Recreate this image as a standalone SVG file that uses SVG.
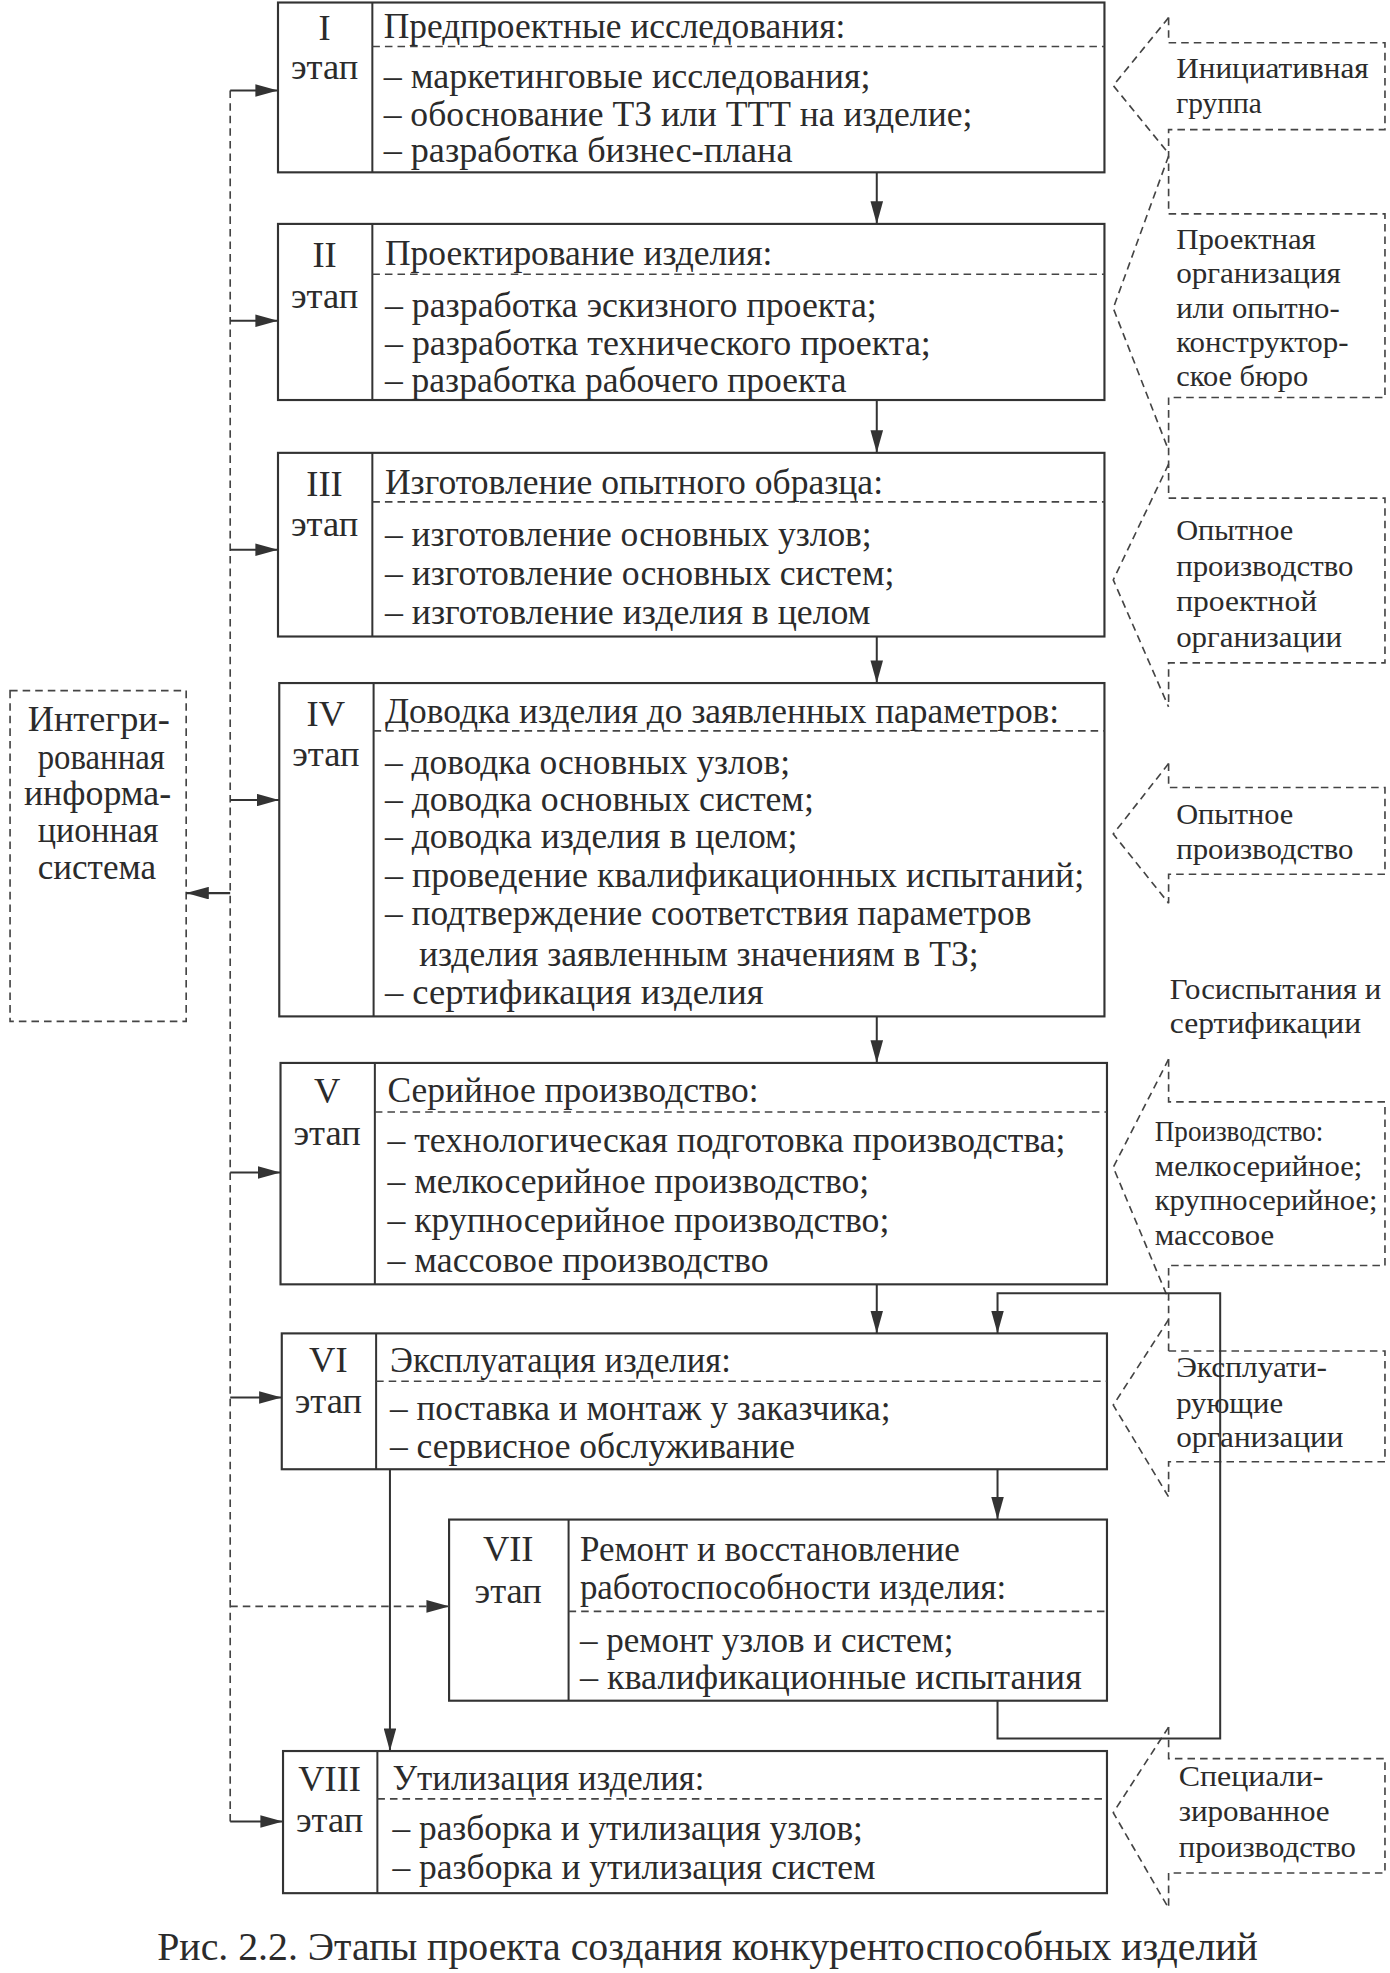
<svg xmlns="http://www.w3.org/2000/svg" width="1390" height="1973" viewBox="0 0 1390 1973">
<defs>
<style>
.box{fill:none;stroke:#333;stroke-width:1.7}
.sl{fill:none;stroke:#333;stroke-width:1.6}
.dl{fill:none;stroke:#444;stroke-width:1.3;stroke-dasharray:6 4}
.t{font-family:"Liberation Serif","Times New Roman",serif;font-size:29px;fill:#2b2b2b}
.n{text-anchor:middle}
.lab{font-size:24px}
.isys{font-size:28px}
.cap{font-size:31px}
</style>
<marker id="ah" viewBox="0 0 18 10" refX="18" refY="5" markerWidth="18" markerHeight="10" markerUnits="userSpaceOnUse" orient="auto">
<path d="M0,0 L18,5 L0,10 z" fill="#333"/>
</marker>
</defs>
<rect width="1390" height="1973" fill="#ffffff"/>
<g transform="scale(1.25792)">
<g id="stage1">
<rect class="box" x="221" y="2" width="657" height="135"/>
<line class="sl" x1="296" y1="2" x2="296" y2="137"/>
<line class="dl" x1="296" y1="37" x2="878" y2="37"/>
<text class="t n" x="258" y="32">I</text>
<text class="t n" x="258" y="63">этап</text>
<text class="t" x="305" y="30" textLength="367" lengthAdjust="spacingAndGlyphs">Предпроектные исследования:</text>
<text class="t" x="305" y="70" textLength="387" lengthAdjust="spacingAndGlyphs">– маркетинговые исследования;</text>
<text class="t" x="305" y="100" textLength="468" lengthAdjust="spacingAndGlyphs">– обоснование ТЗ или ТТТ на изделие;</text>
<text class="t" x="305" y="129" textLength="325" lengthAdjust="spacingAndGlyphs">– разработка бизнес-плана</text>
</g>
<g id="stage2">
<rect class="box" x="221" y="178" width="657" height="140"/>
<line class="sl" x1="296" y1="178" x2="296" y2="318"/>
<line class="dl" x1="296" y1="218" x2="878" y2="218"/>
<text class="t n" x="258" y="212">II</text>
<text class="t n" x="258" y="245">этап</text>
<text class="t" x="306" y="211" textLength="308" lengthAdjust="spacingAndGlyphs">Проектирование изделия:</text>
<text class="t" x="306" y="252" textLength="391" lengthAdjust="spacingAndGlyphs">– разработка эскизного проекта;</text>
<text class="t" x="306" y="282" textLength="434" lengthAdjust="spacingAndGlyphs">– разработка технического проекта;</text>
<text class="t" x="306" y="312" textLength="367" lengthAdjust="spacingAndGlyphs">– разработка рабочего проекта</text>
</g>
<g id="stage3">
<rect class="box" x="221" y="360" width="657" height="146"/>
<line class="sl" x1="296" y1="360" x2="296" y2="506"/>
<line class="dl" x1="296" y1="399" x2="878" y2="399"/>
<text class="t n" x="258" y="394">III</text>
<text class="t n" x="258" y="426">этап</text>
<text class="t" x="306" y="393" textLength="396" lengthAdjust="spacingAndGlyphs">Изготовление опытного образца:</text>
<text class="t" x="306" y="434" textLength="387" lengthAdjust="spacingAndGlyphs">– изготовление основных узлов;</text>
<text class="t" x="306" y="465" textLength="405" lengthAdjust="spacingAndGlyphs">– изготовление основных систем;</text>
<text class="t" x="306" y="496" textLength="386" lengthAdjust="spacingAndGlyphs">– изготовление изделия в целом</text>
</g>
<g id="stage4">
<rect class="box" x="222" y="543" width="656" height="265"/>
<line class="sl" x1="297" y1="543" x2="297" y2="808"/>
<line class="dl" x1="297" y1="581" x2="878" y2="581"/>
<text class="t n" x="259" y="577">IV</text>
<text class="t n" x="259" y="609">этап</text>
<text class="t" x="306" y="575" textLength="536" lengthAdjust="spacingAndGlyphs">Доводка изделия до заявленных параметров:</text>
<text class="t" x="306" y="615" textLength="322" lengthAdjust="spacingAndGlyphs">– доводка основных узлов;</text>
<text class="t" x="306" y="645" textLength="341" lengthAdjust="spacingAndGlyphs">– доводка основных систем;</text>
<text class="t" x="306" y="674" textLength="328" lengthAdjust="spacingAndGlyphs">– доводка изделия в целом;</text>
<text class="t" x="306" y="705" textLength="556" lengthAdjust="spacingAndGlyphs">– проведение квалификационных испытаний;</text>
<text class="t" x="306" y="735" textLength="514" lengthAdjust="spacingAndGlyphs">– подтверждение соответствия параметров</text>
<text class="t" x="333" y="768" textLength="445" lengthAdjust="spacingAndGlyphs">изделия заявленным значениям в ТЗ;</text>
<text class="t" x="306" y="798" textLength="301" lengthAdjust="spacingAndGlyphs">– сертификация изделия</text>
</g>
<g id="stage5">
<rect class="box" x="223" y="845" width="657" height="176"/>
<line class="sl" x1="298" y1="845" x2="298" y2="1021"/>
<line class="dl" x1="298" y1="884" x2="880" y2="884"/>
<text class="t n" x="260" y="877">V</text>
<text class="t n" x="260" y="910">этап</text>
<text class="t" x="308" y="876" textLength="295" lengthAdjust="spacingAndGlyphs">Серийное производство:</text>
<text class="t" x="308" y="916" textLength="539" lengthAdjust="spacingAndGlyphs">– технологическая подготовка производства;</text>
<text class="t" x="308" y="948" textLength="383" lengthAdjust="spacingAndGlyphs">– мелкосерийное производство;</text>
<text class="t" x="308" y="979" textLength="399" lengthAdjust="spacingAndGlyphs">– крупносерийное производство;</text>
<text class="t" x="308" y="1011" textLength="303" lengthAdjust="spacingAndGlyphs">– массовое производство</text>
</g>
<g id="stage6">
<rect class="box" x="224" y="1060" width="656" height="108"/>
<line class="sl" x1="299" y1="1060" x2="299" y2="1168"/>
<line class="dl" x1="299" y1="1098" x2="880" y2="1098"/>
<text class="t n" x="261" y="1091">VI</text>
<text class="t n" x="261" y="1123">этап</text>
<text class="t" x="310" y="1091" textLength="271" lengthAdjust="spacingAndGlyphs">Эксплуатация изделия:</text>
<text class="t" x="310" y="1129" textLength="398" lengthAdjust="spacingAndGlyphs">– поставка и монтаж у заказчика;</text>
<text class="t" x="310" y="1159" textLength="322" lengthAdjust="spacingAndGlyphs">– сервисное обслуживание</text>
</g>
<g id="stage7">
<rect class="box" x="357" y="1208" width="523" height="144"/>
<line class="sl" x1="452" y1="1208" x2="452" y2="1352"/>
<line class="dl" x1="452" y1="1281" x2="880" y2="1281"/>
<text class="t n" x="404" y="1241">VII</text>
<text class="t n" x="404" y="1274">этап</text>
<text class="t" x="461" y="1241" textLength="302" lengthAdjust="spacingAndGlyphs">Ремонт и восстановление</text>
<text class="t" x="461" y="1271" textLength="339" lengthAdjust="spacingAndGlyphs">работоспособности изделия:</text>
<text class="t" x="461" y="1313" textLength="297" lengthAdjust="spacingAndGlyphs">– ремонт узлов и систем;</text>
<text class="t" x="461" y="1343" textLength="399" lengthAdjust="spacingAndGlyphs">– квалификационные испытания</text>
</g>
<g id="stage8">
<rect class="box" x="225" y="1392" width="655" height="113"/>
<line class="sl" x1="300" y1="1392" x2="300" y2="1505"/>
<line class="dl" x1="300" y1="1430" x2="880" y2="1430"/>
<text class="t n" x="262" y="1424">VIII</text>
<text class="t n" x="262" y="1456">этап</text>
<text class="t" x="312" y="1423" textLength="248" lengthAdjust="spacingAndGlyphs">Утилизация изделия:</text>
<text class="t" x="312" y="1463" textLength="374" lengthAdjust="spacingAndGlyphs">– разборка и утилизация узлов;</text>
<text class="t" x="312" y="1494" textLength="384" lengthAdjust="spacingAndGlyphs">– разборка и утилизация систем</text>
</g>
<g id="info-system">
<rect class="dl" x="8" y="549" width="140" height="263"/>
<text class="t isys" x="22" y="581" textLength="113" lengthAdjust="spacingAndGlyphs">Интегри-</text>
<text class="t isys" x="30" y="611" textLength="101" lengthAdjust="spacingAndGlyphs">рованная</text>
<text class="t isys" x="19" y="640" textLength="117" lengthAdjust="spacingAndGlyphs">информа-</text>
<text class="t isys" x="30" y="669" textLength="96" lengthAdjust="spacingAndGlyphs">ционная</text>
<text class="t isys" x="30" y="699" textLength="94" lengthAdjust="spacingAndGlyphs">система</text>
</g>
<g id="org1">
<polyline class="dl" points="929,14 885,68 929,122"/>
<polyline class="dl" points="929,14 929,34 1101,34 1101,103 929,103 929,170"/>
<text class="t lab" x="935" y="62" textLength="153" lengthAdjust="spacingAndGlyphs">Инициативная</text>
<text class="t lab" x="935" y="90" textLength="68" lengthAdjust="spacingAndGlyphs">группа</text>
</g>
<g id="org2">
<polyline class="dl" points="929,124 885,245 929,358"/>
<polyline class="dl" points="929,170 1101,170 1101,316 929,316 929,396"/>
<text class="t lab" x="935" y="198" textLength="111" lengthAdjust="spacingAndGlyphs">Проектная</text>
<text class="t lab" x="935" y="225" textLength="131" lengthAdjust="spacingAndGlyphs">организация</text>
<text class="t lab" x="935" y="253" textLength="130" lengthAdjust="spacingAndGlyphs">или опытно-</text>
<text class="t lab" x="935" y="280" textLength="137" lengthAdjust="spacingAndGlyphs">конструктор-</text>
<text class="t lab" x="935" y="307" textLength="105" lengthAdjust="spacingAndGlyphs">ское бюро</text>
</g>
<g id="org3">
<polyline class="dl" points="929,369 885,461 929,562"/>
<polyline class="dl" points="929,396 1101,396 1101,527 929,527 929,562"/>
<text class="t lab" x="935" y="429" textLength="93" lengthAdjust="spacingAndGlyphs">Опытное</text>
<text class="t lab" x="935" y="458" textLength="141" lengthAdjust="spacingAndGlyphs">производство</text>
<text class="t lab" x="935" y="486" textLength="112" lengthAdjust="spacingAndGlyphs">проектной</text>
<text class="t lab" x="935" y="514" textLength="132" lengthAdjust="spacingAndGlyphs">организации</text>
</g>
<g id="org4">
<polyline class="dl" points="929,607 885,663 929,718"/>
<polyline class="dl" points="929,607 929,626 1101,626 1101,695 929,695 929,718"/>
<text class="t lab" x="935" y="655" textLength="93" lengthAdjust="spacingAndGlyphs">Опытное</text>
<text class="t lab" x="935" y="683" textLength="141" lengthAdjust="spacingAndGlyphs">производство</text>
</g>
<g id="org-cert">
<text class="t lab" x="930" y="794" textLength="168" lengthAdjust="spacingAndGlyphs">Госиспытания и</text>
<text class="t lab" x="930" y="821" textLength="152" lengthAdjust="spacingAndGlyphs">сертификации</text>
</g>
<g id="org5">
<polyline class="dl" points="929,842 885,928 929,1033"/>
<polyline class="dl" points="929,842 929,876 1101,876 1101,1006 929,1006 929,1074"/>
<text class="t lab" x="918" y="907" textLength="134" lengthAdjust="spacingAndGlyphs">Производство:</text>
<text class="t lab" x="918" y="935" textLength="165" lengthAdjust="spacingAndGlyphs">мелкосерийное;</text>
<text class="t lab" x="918" y="962" textLength="177" lengthAdjust="spacingAndGlyphs">крупносерийное;</text>
<text class="t lab" x="918" y="990" textLength="95" lengthAdjust="spacingAndGlyphs">массовое</text>
</g>
<g id="org6">
<polyline class="dl" points="929,1049 885,1117 929,1190"/>
<polyline class="dl" points="929,1074 1101,1074 1101,1162 929,1162 929,1190"/>
<text class="t lab" x="935" y="1095" textLength="120" lengthAdjust="spacingAndGlyphs">Эксплуати-</text>
<text class="t lab" x="935" y="1123" textLength="85" lengthAdjust="spacingAndGlyphs">рующие</text>
<text class="t lab" x="935" y="1150" textLength="133" lengthAdjust="spacingAndGlyphs">организации</text>
</g>
<g id="org7">
<polyline class="dl" points="929,1373 885,1441 929,1517"/>
<polyline class="dl" points="929,1373 929,1398 1101,1398 1101,1489 929,1489 929,1517"/>
<text class="t lab" x="937" y="1420" textLength="115" lengthAdjust="spacingAndGlyphs">Специали-</text>
<text class="t lab" x="937" y="1448" textLength="120" lengthAdjust="spacingAndGlyphs">зированное</text>
<text class="t lab" x="937" y="1476" textLength="141" lengthAdjust="spacingAndGlyphs">производство</text>
</g>
<g id="connectors">
<line class="sl" x1="697" y1="137" x2="697" y2="178" marker-end="url(#ah)"/>
<line class="sl" x1="697" y1="318" x2="697" y2="360" marker-end="url(#ah)"/>
<line class="sl" x1="697" y1="506" x2="697" y2="543" marker-end="url(#ah)"/>
<line class="sl" x1="697" y1="808" x2="697" y2="845" marker-end="url(#ah)"/>
<line class="sl" x1="697" y1="1021" x2="697" y2="1060" marker-end="url(#ah)"/>
<polyline class="sl" points="793,1352 793,1382 970,1382 970,1028 793,1028 793,1060" marker-end="url(#ah)"/>
<line class="sl" x1="793" y1="1168" x2="793" y2="1208" marker-end="url(#ah)"/>
<line class="sl" x1="310" y1="1168" x2="310" y2="1392" marker-end="url(#ah)"/>
<line class="dl" x1="183" y1="72" x2="183" y2="1448"/>
<line class="sl" x1="183" y1="72" x2="221" y2="72" marker-end="url(#ah)"/>
<line class="sl" x1="183" y1="255" x2="221" y2="255" marker-end="url(#ah)"/>
<line class="sl" x1="183" y1="437" x2="221" y2="437" marker-end="url(#ah)"/>
<line class="sl" x1="183" y1="636" x2="222" y2="636" marker-end="url(#ah)"/>
<line class="sl" x1="183" y1="932" x2="223" y2="932" marker-end="url(#ah)"/>
<line class="sl" x1="183" y1="1111" x2="224" y2="1111" marker-end="url(#ah)"/>
<line class="sl" x1="183" y1="1448" x2="225" y2="1448" marker-end="url(#ah)"/>
<line class="dl" x1="183" y1="1277" x2="357" y2="1277" marker-end="url(#ah)"/>
<line class="sl" x1="183" y1="710" x2="148" y2="710" marker-end="url(#ah)"/>
</g>
<text class="t cap" x="125" y="1558" textLength="875" lengthAdjust="spacingAndGlyphs">Рис. 2.2. Этапы проекта создания конкурентоспособных изделий</text>
</g>
</svg>
